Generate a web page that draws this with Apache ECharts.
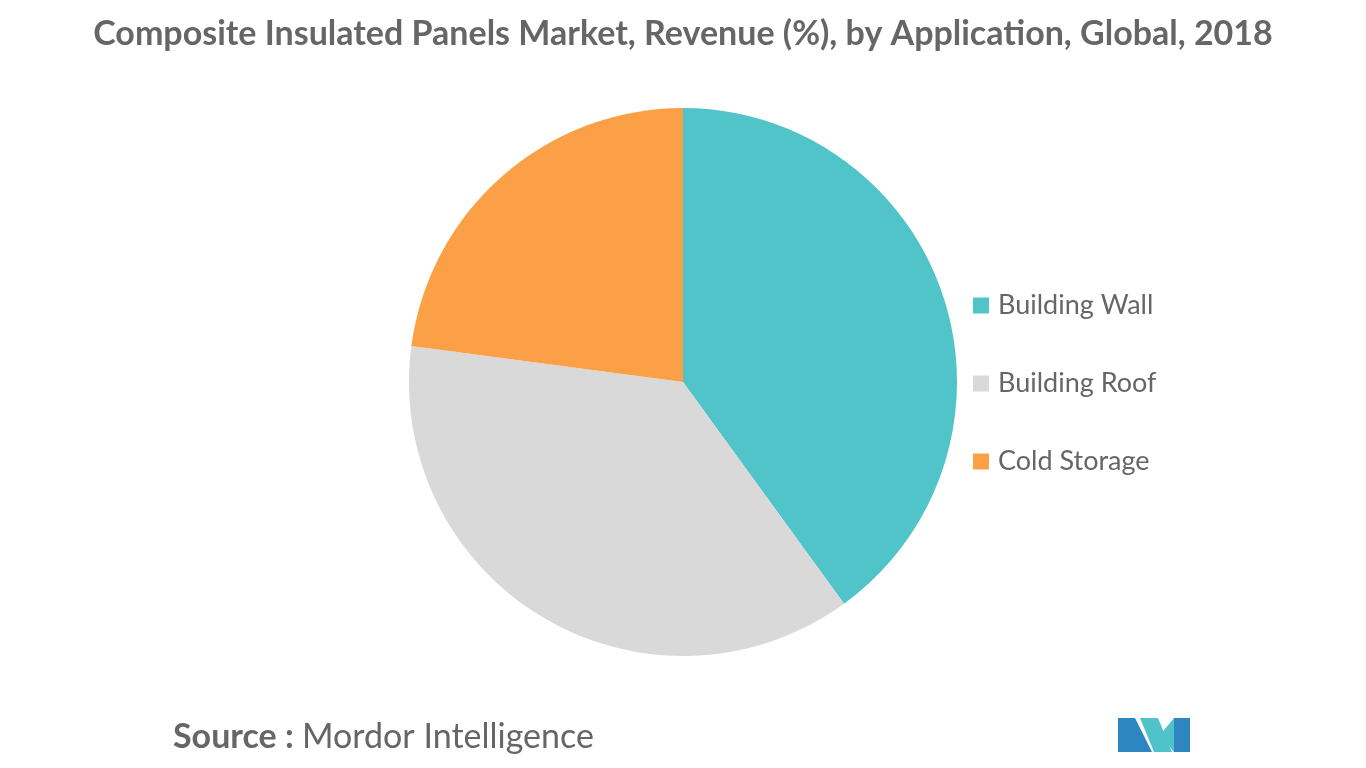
<!DOCTYPE html><html><head><meta charset="utf-8">
<script src="https://cdn.jsdelivr.net/npm/echarts@6/dist/echarts.min.js"></script>
<style>html,body{margin:0;padding:0;background:#fff}#c{width:1366px;height:768px}</style></head><body><div id="c"></div>
<script>
const categories=["Building Wall","Building Roof","Cold Storage"];
const values=[40,37.1,22.9];
const colors=["#50C4C9","#D9D9D9","#FBA047"];
const ch=echarts.init(document.getElementById('c'));
ch.setOption({
 title:{text:"Composite Insulated Panels Market, Revenue (%), by Application, Global, 2018",left:'center',top:12,textStyle:{fontFamily:'Lato',fontSize:34,fontWeight:'bold',color:'#666'}},
 legend:{orient:'vertical',left:968,top:287,itemWidth:16,itemHeight:16,itemGap:51,itemGap2:0,icon:'rect',textStyle:{fontFamily:'Lato',fontSize:27,color:'#666',padding:[0,0,0,4]},data:categories},
 series:[{type:'pie',center:[683,382],radius:274,startAngle:90,clockwise:true,label:{show:false},labelLine:{show:false},silent:true,
  data:categories.map((n,i)=>({name:n,value:values[i],itemStyle:{color:colors[i]}}))}],
 graphic:[
  {type:'text',left:173,top:720,style:{text:'Source :',font:'bold 34px Lato',fill:'#666'}},
  {type:'text',left:302,top:720,style:{text:'Mordor Intelligence',font:'34px Lato',fill:'#666'}},
  {type:'polygon',shape:{points:[[1118,752],[1118,718],[1135,718],[1152,752]]},style:{fill:'#2E86C1'}},
  {type:'polygon',shape:{points:[[1140,718],[1158,718],[1172,752],[1154,752]]},style:{fill:'#4FC3C9'}},
  {type:'polygon',shape:{points:[[1174,718],[1190,718],[1190,752],[1174,752]]},style:{fill:'#2E86C1'}},
  {type:'polygon',shape:{points:[[1160,735],[1174,718],[1174,752]]},style:{fill:'#4FC3C9'}}
 ]
});
</script></body></html>
